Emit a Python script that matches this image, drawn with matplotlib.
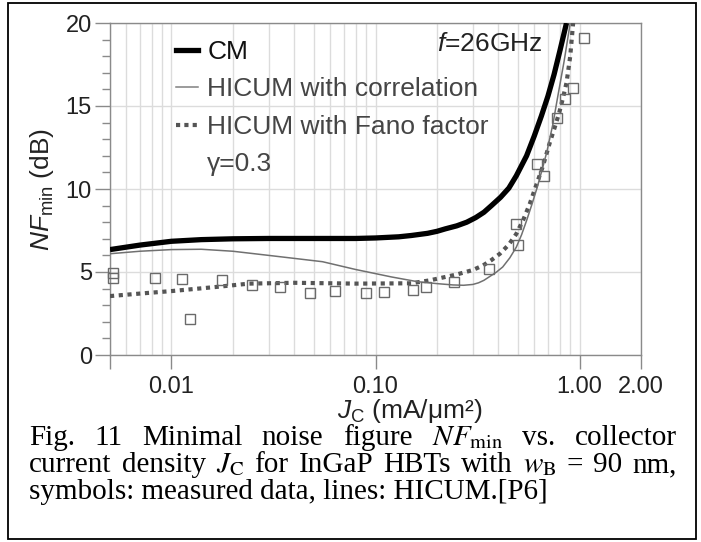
import matplotlib
matplotlib.use("Agg")
import matplotlib.pyplot as plt
from matplotlib.lines import Line2D
from matplotlib.patches import Rectangle
from matplotlib.ticker import FixedLocator, NullFormatter, MultipleLocator

plt.rcParams['font.family'] = ['Liberation Sans', 'DejaVu Sans']
plt.rcParams['mathtext.fontset'] = 'custom'
plt.rcParams['mathtext.rm'] = 'Liberation Sans'
plt.rcParams['mathtext.it'] = 'Liberation Sans:italic'

# ---------------- data ----------------
meas_x = [0.0052, 0.0052, 0.0083, 0.0113, 0.0123, 0.0176, 0.0247, 0.034, 0.048, 0.063,
          0.0896, 0.110, 0.153, 0.177, 0.242, 0.36, 0.487, 0.50, 0.622, 0.668,
          0.776, 0.847, 0.931, 1.05]
meas_y = [4.95, 4.65, 4.66, 4.58, 2.15, 4.5, 4.2, 4.1, 3.72, 3.86,
          3.72, 3.82, 3.92, 4.08, 4.42, 5.2, 7.87, 6.63, 11.49, 10.78,
          14.3, 15.4, 16.1, 19.08]

cm_x = [0.005, 0.007, 0.01, 0.014, 0.02, 0.03, 0.05, 0.08, 0.1, 0.13, 0.15, 0.18, 0.2,
        0.22, 0.25, 0.28, 0.31, 0.34, 0.37, 0.41, 0.45, 0.49, 0.55, 0.60, 0.65, 0.70,
        0.75, 0.80, 0.863]
cm_y = [6.35, 6.62, 6.85, 6.95, 7.0, 7.02, 7.02, 7.02, 7.05, 7.12, 7.2, 7.33, 7.45,
        7.6, 7.78, 8.0, 8.28, 8.6, 9.0, 9.5, 10.05, 10.8, 12.0, 13.2, 14.4, 15.6,
        16.9, 18.3, 20.0]

cor_x = [0.005, 0.007, 0.01, 0.014, 0.02, 0.03, 0.04, 0.055, 0.08, 0.12, 0.16, 0.2,
         0.24, 0.27, 0.30, 0.32, 0.34, 0.36, 0.39, 0.42, 0.455, 0.49, 0.52, 0.55,
         0.585, 0.62, 0.655, 0.69, 0.74, 0.78, 0.84, 0.90]
cor_y = [6.1, 6.25, 6.35, 6.37, 6.25, 6.0, 5.82, 5.62, 5.15, 4.7, 4.42, 4.3,
         4.22, 4.2, 4.25, 4.35, 4.5, 4.7, 4.98, 5.3, 5.85, 6.5, 7.25, 8.1,
         9.1, 10.1, 11.15, 12.2, 13.9, 15.5, 17.7, 20.0]

fano_x = [0.005, 0.007, 0.01, 0.0166, 0.024, 0.04, 0.08, 0.15, 0.185, 0.25, 0.30, 0.337,
          0.37, 0.407, 0.45, 0.49, 0.53, 0.57, 0.61, 0.66, 0.715, 0.755, 0.795, 0.83,
          0.863, 0.90, 0.93]
fano_y = [3.55, 3.7, 3.85, 4.1, 4.3, 4.35, 4.3, 4.32, 4.5, 4.85, 5.12, 5.4,
          5.72, 6.1, 6.65, 7.3, 8.15, 9.1, 10.15, 11.35, 12.8, 13.7, 14.6, 15.5,
          16.4, 18.0, 20.0]

xtick_vals = [0.01, 0.1, 1.0, 2.0]
xtick_labels = ['0.01', '0.10', '1.00', '2.00']
ytick_vals = [0, 5, 10, 15, 20]
legend_labels = ['CM', 'HICUM with correlation', 'HICUM with Fano factor', '\u03b3=0.3']

# ---------------- figure ----------------
W, H = 701, 542
fig = plt.figure(figsize=(W / 100, H / 100), dpi=100)

def fx(px):
    return px / W

def fy(py):
    return 1 - py / H

ax = fig.add_axes([fx(110), fy(355), fx(641) - fx(110), fy(23) - fy(355)])
ax.set_xscale('log')
ax.set_xlim(0.005, 2.0)
ax.set_ylim(0, 20)

grid_c = '#dcdcdc'
spine_c = '#8a8a8a'
ax.grid(True, which='major', axis='y', color=grid_c, lw=1.0)
ax.grid(True, which='both', axis='x', color=grid_c, lw=1.0)
ax.set_axisbelow(True)

ax.xaxis.set_major_locator(FixedLocator([0.005] + xtick_vals))
ax.set_xticklabels([''] + xtick_labels)
minor = [m * 10.0 ** e for e in (-3, -2, -1, 0) for m in range(2, 10)]
minor = [v for v in minor if 0.005 < v < 2.0 and v not in (0.01, 0.1, 1.0)]
ax.xaxis.set_minor_locator(FixedLocator(minor))
ax.xaxis.set_minor_formatter(NullFormatter())
ax.yaxis.set_major_locator(FixedLocator(ytick_vals))
ax.yaxis.set_minor_locator(MultipleLocator(1))

ax.tick_params(axis='x', which='major', direction='out', length=10, width=1,
               color=spine_c, labelsize=17, pad=5, labelcolor='#222222')
ax.tick_params(axis='x', which='minor', length=0)
ax.tick_params(axis='y', which='major', direction='out', length=11, width=1,
               color=spine_c, labelsize=17, pad=2, labelcolor='#222222')
ax.tick_params(axis='y', which='minor', direction='out', length=5.5, width=1,
               color=spine_c)
for s in ax.spines.values():
    s.set_color(spine_c)
    s.set_linewidth(1.0)

# data
ax.plot(fano_x, fano_y, color='#555555', lw=3.0, linestyle=(0, (1.0, 1.1)),
        dash_capstyle='butt', zorder=3)
ax.plot(cor_x, cor_y, color='#707070', lw=1.1, zorder=3)
ax.plot(cm_x, cm_y, color='black', lw=3.8, zorder=4, solid_capstyle='butt')
ax.plot(meas_x, meas_y, linestyle='none', marker='s', markersize=6.5,
        markerfacecolor='none', markeredgecolor='#6a6a6a', markeredgewidth=1.0,
        zorder=5, clip_on=False)

# legend
handles = [Line2D([], [], color='black', lw=3.8),
           Line2D([], [], color='#808080', lw=1.1),
           Line2D([], [], color='#555555', lw=3.0, linestyle=(0, (1.0, 1.0))),
           Line2D([], [], color='none', lw=0)]
leg = ax.legend(handles, legend_labels, loc='upper left',
                bbox_to_anchor=((176 - 110) / 531, (355 - 40) / 332),
                frameon=False, fontsize=19, handlelength=0.85, handletextpad=0.33,
                labelspacing=0.51, borderpad=0, borderaxespad=0)
for i, t in enumerate(leg.get_texts()):
    t.set_color('#111111' if i == 0 else '#454545')

ax.text((543 - 110) / 531, (355 - 44) / 332, r'$\mathit{f}$=26GHz', transform=ax.transAxes,
        ha='right', va='center', fontsize=19, color='#222222')

# axis labels
fig.text(fx(42), fy(189), r'$\mathit{NF}_{\mathrm{min}}$' + ' (dB)', rotation=90,
         ha='center', va='center', fontsize=19, color='#222222')
fig.text(fx(410), fy(411), r'$\mathit{J}_{\mathrm{C}}$' + ' (mA/\u03bcm\u00b2)',
         ha='center', va='center', fontsize=19, color='#222222')

# caption (justified)
cap_fs = 21
line1 = [('Fig.', 0), ('11', 0), ('Minimal', 0), ('noise', 0), ('figure', 0),
         (r'$\mathit{NF}_{\mathrm{min}}$', 1), ('vs.', 0), ('collector', 0)]
line2 = [('current', 0), ('density', 0), (r'$\mathit{J}_{\mathrm{C}}$', 1), ('for', 0),
         ('InGaP', 0), ('HBTs', 0), ('with', 0), (r'$\mathit{w}_{\mathrm{B}}$', 1),
         ('=', 0), ('90', 0), ('nm,', 0)]
line3 = 'symbols: measured data, lines: HICUM.[P6]'

renderer = fig.canvas.get_renderer()

def make(word, math, x, y):
    if math:
        return fig.text(fx(x), fy(y), word, fontsize=cap_fs, ha='left', va='baseline',
                        math_fontfamily='stix', color='black')
    return fig.text(fx(x), fy(y), word, fontsize=cap_fs, ha='left', va='baseline',
                    family='Liberation Serif', color='black')

def justify(words, y, x0, x1):
    ts = [make(w, m, x0, y) for w, m in words]
    widths = [t.get_window_extent(renderer).width for t in ts]
    gap = (x1 - x0 - sum(widths)) / (len(ts) - 1)
    x = x0
    for t, w in zip(ts, widths):
        t.set_x(fx(x))
        x += w + gap

justify(line1, 445, 29, 677)
justify(line2, 472, 29, 677)
fig.text(fx(29), fy(499), line3, fontsize=cap_fs, ha='left', va='baseline',
         family='Liberation Serif', color='black')

# outer frame
fig.patches.append(Rectangle((fx(8), fy(539)), fx(696) - fx(8), fy(3) - fy(539),
                             transform=fig.transFigure, fill=False, edgecolor='black',
                             lw=1.3))

fig.savefig('out.png', dpi=100)
